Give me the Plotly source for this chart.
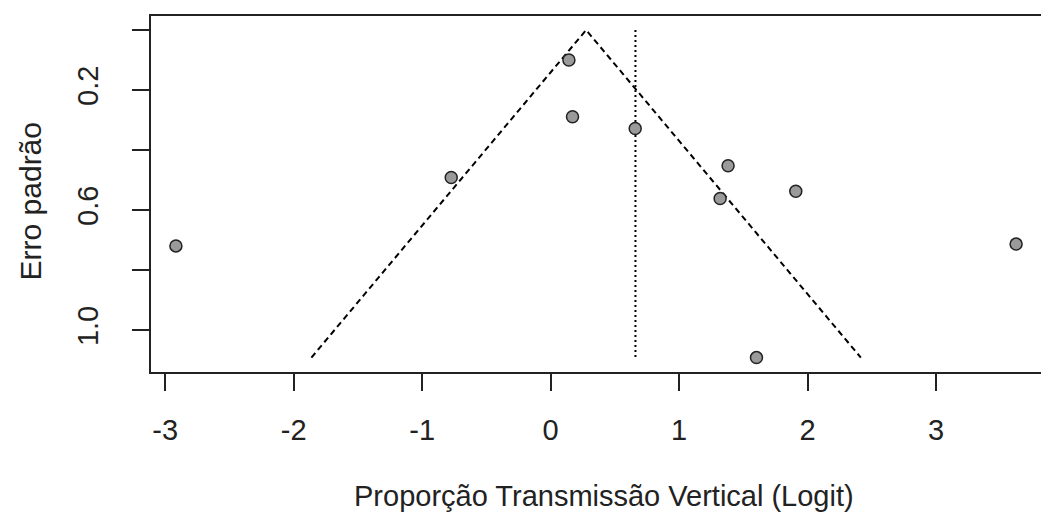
import plotly.graph_objects as go

# Study estimates (logit) and standard errors
logit_est = [-2.917, 0.142, 0.170, 0.658, -0.774, 1.381, 1.319, 1.908, 3.623, 1.602]
std_err = [0.719, 0.100, 0.289, 0.328, 0.491, 0.452, 0.561, 0.537, 0.713, 1.091]

funnel_center = 0.276   # apex of the pseudo-confidence funnel
ref_line = 0.660        # dotted vertical reference line
z = 1.96

x_ticks = [-3, -2, -1, 0, 1, 2, 3]
y_ticks = [0.0, 0.2, 0.4, 0.6, 0.8, 1.0]
y_tick_text = ["", "0.2", "", "0.6", "", "1.0"]

se_max = max(std_err)
funnel_x = [funnel_center - z * se_max, funnel_center, funnel_center + z * se_max]
funnel_y = [se_max, 0.0, se_max]

FONT = "Liberation Sans, Arial, sans-serif"
FS = 29
TXT = "#222222"

fig = go.Figure()
fig.add_trace(go.Scatter(x=funnel_x, y=funnel_y, mode="lines",
                         line=dict(color="black", width=2, dash="6px,4px"),
                         hoverinfo="skip", showlegend=False))
fig.add_trace(go.Scatter(x=[ref_line, ref_line], y=[0.0, se_max], mode="lines",
                         line=dict(color="black", width=2, dash="2px,3px"),
                         hoverinfo="skip", showlegend=False))
fig.add_trace(go.Scatter(x=logit_est, y=std_err, mode="markers",
                         marker=dict(size=12, color="#9a9a9a",
                                     line=dict(color="#222222", width=1.5)),
                         showlegend=False))

# page has an 8px body margin; figure sized to fit the 1049x516 window
fig.update_layout(
    width=1041, height=508,
    margin=dict(l=143, r=0, t=8, b=144, pad=0),
    paper_bgcolor="white", plot_bgcolor="white",
    font=dict(family=FONT, size=FS, color=TXT),
    xaxis=dict(range=[-3.111, 3.879], tickvals=x_ticks,
               ticktext=[str(v) for v in x_ticks],
               showgrid=False, zeroline=False,
               showline=True, linecolor="#222222", linewidth=2, mirror=True,
               ticks="outside", ticklen=17, tickwidth=1.5, tickcolor="#222222",
               ticklabelstandoff=14,
               tickfont=dict(family=FONT, size=FS, color=TXT)),
    yaxis=dict(range=[1.139, -0.0467], tickvals=y_ticks, ticktext=y_tick_text,
               showgrid=False, zeroline=False,
               showline=True, linecolor="#222222", linewidth=2, mirror=False,
               ticks="outside", ticklen=17, tickwidth=1.5, tickcolor="#222222",
               tickangle=-90, ticklabelstandoff=22,
               tickfont=dict(family=FONT, size=FS, color=TXT)),
    annotations=[
        dict(text="Proporção Transmissão Vertical (Logit)", xref="paper", yref="paper",
             x=0.505, y=-0.3495, xanchor="center", yanchor="middle", showarrow=False,
             font=dict(family=FONT, size=FS, color=TXT)),
        dict(text="Erro padrão", xref="paper", yref="paper",
             x=-0.1344, y=0.48, xanchor="center", yanchor="middle", showarrow=False,
             textangle=-90, font=dict(family=FONT, size=30, color=TXT)),
    ],
)

fig.write_html("out.html")
